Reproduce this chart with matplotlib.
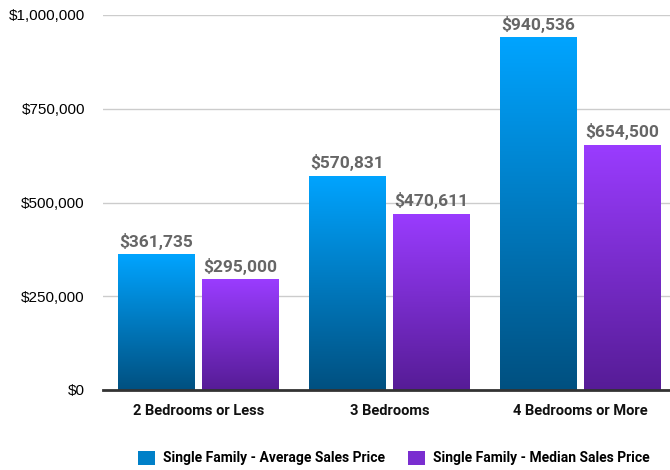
import matplotlib
matplotlib.use("Agg")
import matplotlib.pyplot as plt
import numpy as np
from matplotlib.colors import LinearSegmentedColormap
from matplotlib.patches import Patch
from matplotlib.ticker import FuncFormatter

categories = ["2 Bedrooms or Less", "3 Bedrooms", "4 Bedrooms or More"]
series_names = ["Single Family - Average Sales Price", "Single Family - Median Sales Price"]
average_price = [361735, 570831, 940536]
median_price = [295000, 470611, 654500]
yticks = [0, 250000, 500000, 750000, 1000000]

fig = plt.figure(figsize=(6.7, 4.7), dpi=100)
ax = fig.add_axes([103/670, 80/470, 567/670, 375/470])

x = np.arange(len(categories))
w = 0.403
offs = [-0.217, 0.223]
grads = [("#005080", "#00a4ff"), ("#561c96", "#9a3cff")]
mids = ["#0080c8", "#7a2ed0"]

for vals, off, (c0, c1) in zip([average_price, median_price], offs, grads):
    bars = ax.bar(x + off, vals, width=w, color="none", zorder=3)
    cmap = LinearSegmentedColormap.from_list("g", [c0, c1])
    grad = np.linspace(0, 1, 256).reshape(-1, 1)
    for b, v in zip(bars, vals):
        x0 = b.get_x()
        im = ax.imshow(grad, cmap=cmap, aspect="auto", origin="lower",
                       extent=[x0, x0 + b.get_width(), 0, v], zorder=3)
        im.set_clip_path(b)
        ax.text(x0 + b.get_width()/2, v + 12000, f"${v:,.0f}", ha="center", va="bottom",
                fontsize=12.5, fontweight="bold", family="Roboto", color="#666666", zorder=4)

ax.set_xlim(-0.497, 2.471)
ax.set_ylim(0, 1000000)
ax.set_yticks(yticks)
ax.yaxis.set_major_formatter(FuncFormatter(lambda v, p: f"${v:,.0f}"))
ax.grid(axis="y", color="#cccccc", linewidth=1, zorder=0)
ax.set_axisbelow(True)
for s in ["top", "right", "left"]:
    ax.spines[s].set_visible(False)
ax.spines["bottom"].set_color("#333333")
ax.spines["bottom"].set_linewidth(2)
ax.spines["bottom"].set_zorder(5)
ax.tick_params(axis="y", length=0, pad=13, labelsize=11)
for lab in ax.get_yticklabels():
    lab.set_family("Liberation Sans")
ax.set_xticks(x + 0.003)
ax.set_xticklabels(categories, family="Roboto", fontweight="bold", fontsize=10.5, color="#111111")
ax.tick_params(axis="x", length=0, pad=10)

handles = [Patch(facecolor=mids[0]), Patch(facecolor=mids[1])]
fig.legend(handles, series_names, loc="center", bbox_to_anchor=(0.588, 12/470),
           ncol=2, frameon=False, prop={"family": "Roboto", "weight": "bold", "size": 10},
           handlelength=1.2, handleheight=1.2, columnspacing=1.7, handletextpad=0.6)

fig.savefig("out.png", dpi=100)
